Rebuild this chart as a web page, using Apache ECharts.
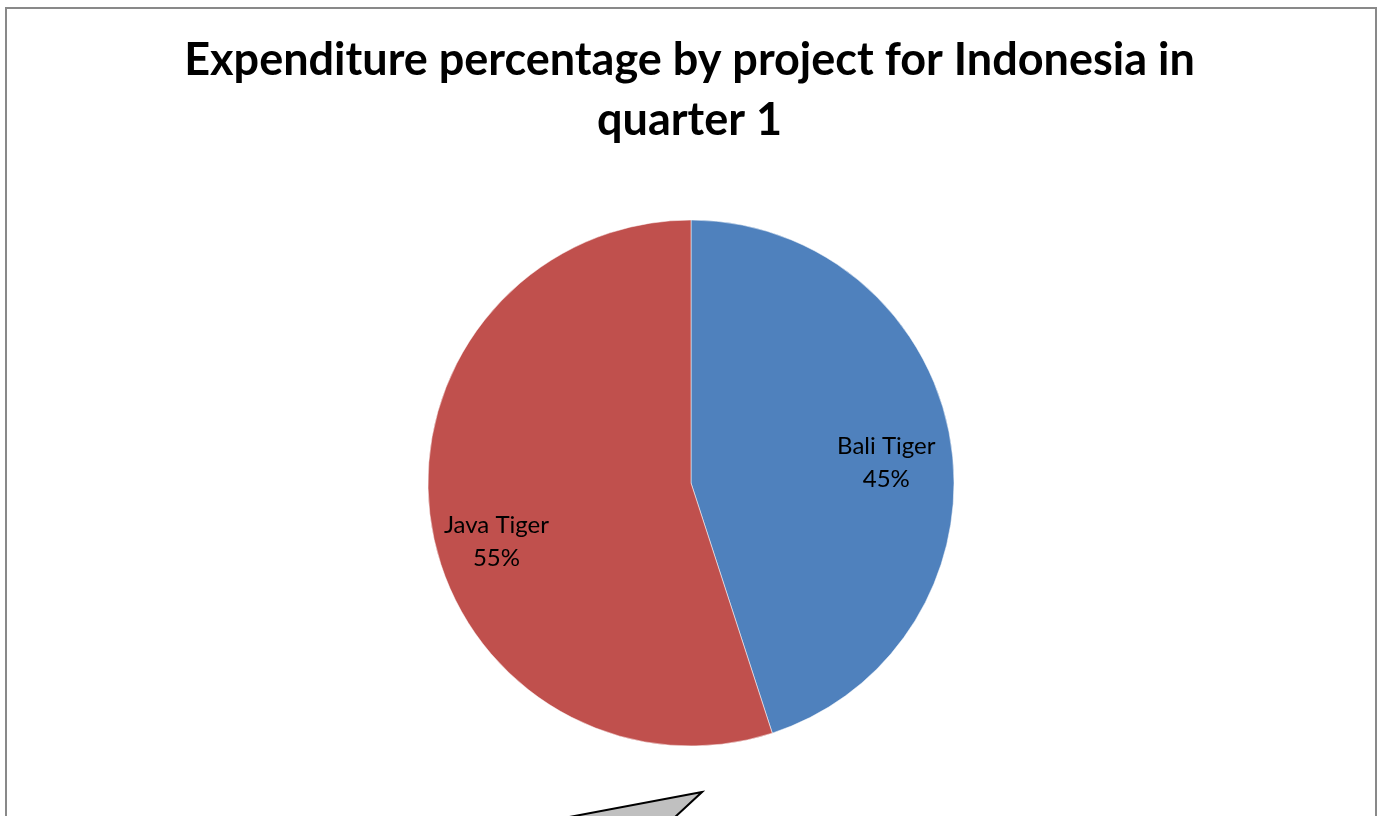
<!DOCTYPE html>
<html>
<head>
<meta charset="utf-8">
<script src="https://cdn.jsdelivr.net/npm/echarts@6/dist/echarts.min.js"></script>
<style>
html,body{margin:0;padding:0;background:#fff;}
#chart{width:1379px;height:816px;}
</style>
</head>
<body>
<div id="chart"></div>
<script>
const titleText = 'Expenditure percentage by project for Indonesia in\nquarter 1';
const categories = ['Bali Tiger', 'Java Tiger'];
const values = [45, 55];
const colors = ['#4F81BD', '#C0504D'];

const chart = echarts.init(document.getElementById('chart'));
const cx = 691, cy = 483, R = 263;
chart.setOption({
  animation: false,
  title: {
    text: titleText,
    left: 'center',
    top: 25,
    textStyle: {
      fontFamily: 'Lato',
      fontWeight: 'bold',
      fontSize: 45,
      lineHeight: 60,
      color: '#000'
    }
  },
  graphic: [
    {
      type: 'rect',
      shape: {x: 6, y: 8, width: 1370, height: 900},
      style: {fill: 'none', stroke: '#898989', lineWidth: 2},
      silent: true,
      z: -10
    },
    {
      type: 'polygon',
      shape: {points: [[702, 792], [564, 818], [674, 818]]},
      style: {fill: '#C0C0C0', stroke: '#000', lineWidth: 2},
      silent: true
    }
  ],
  series: [{
    type: 'pie',
    center: [cx, cy],
    radius: R,
    startAngle: 90,
    clockwise: true,
    data: categories.map((c, i) => ({name: c, value: values[i], itemStyle: {color: colors[i]}})),
    itemStyle: {borderColor: 'rgba(255,255,255,0.5)', borderWidth: 1},
    label: {
      show: true,
      position: 'inside',
      formatter: '{b}\n{d}%',
      fontFamily: 'Lato',
      fontSize: 24,
      lineHeight: 33,
      color: '#000',
      align: 'center'
    },
    labelLayout: function (p) {
      const r = p.labelRect;
      const lx = r.x + r.width / 2, ly = r.y + r.height / 2;
      if (p.dataIndex === 0) {
        return {dx: (lx - cx) * 0.5 - 4, dy: (ly - cy) * 0.5 + 11};
      }
      return {dx: (lx - cx) * 0.6 + 18, dy: (ly - cy) * 0.6 + 25};
    },
    emphasis: {disabled: true}
  }]
});
</script>
</body>
</html>
